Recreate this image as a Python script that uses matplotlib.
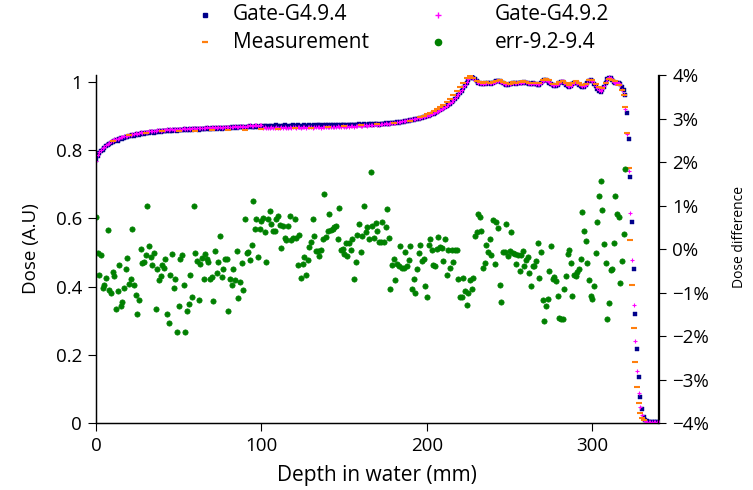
import numpy as np
import matplotlib
matplotlib.use("Agg")
import matplotlib.pyplot as plt
from matplotlib.lines import Line2D

plt.rcParams['font.family'] = ['Open Sans', 'DejaVu Sans']
plt.rcParams['font.size'] = 13.5

# depth-dose curves, one value per mm (0..340 mm)
gate94 = [
    0.771, 0.782, 0.790, 0.797, 0.801, 0.806, 0.811, 0.815, 0.818, 0.822, 0.824, 0.826, 0.829, 0.828, 0.832, 0.834, 0.831, 0.836, 0.838, 0.837, 0.840,
    0.841, 0.843, 0.842, 0.845, 0.846, 0.844, 0.848, 0.849, 0.847, 0.850, 0.851, 0.850, 0.852, 0.853, 0.851, 0.854, 0.853, 0.855, 0.854, 0.856,
    0.855, 0.857, 0.856, 0.858, 0.857, 0.855, 0.858, 0.859, 0.857, 0.860, 0.858, 0.860, 0.859, 0.861, 0.860, 0.858, 0.861, 0.860, 0.862, 0.861,
    0.862, 0.860, 0.863, 0.862, 0.861, 0.863, 0.864, 0.862, 0.863, 0.865, 0.863, 0.864, 0.862, 0.865, 0.864, 0.863, 0.866, 0.864, 0.865, 0.866,
    0.865, 0.867, 0.866, 0.868, 0.866, 0.867, 0.869, 0.867, 0.868, 0.866, 0.869, 0.868, 0.870, 0.868, 0.867, 0.869, 0.870, 0.868, 0.869, 0.870,
    0.869, 0.871, 0.870, 0.868, 0.870, 0.871, 0.869, 0.870, 0.872, 0.870, 0.869, 0.871, 0.870, 0.872, 0.871, 0.869, 0.871, 0.870, 0.872, 0.871,
    0.870, 0.872, 0.871, 0.869, 0.871, 0.872, 0.870, 0.871, 0.873, 0.871, 0.870, 0.872, 0.871, 0.873, 0.872, 0.870, 0.872, 0.871, 0.873, 0.872,
    0.871, 0.873, 0.872, 0.870, 0.872, 0.873, 0.871, 0.872, 0.874, 0.872, 0.871, 0.873, 0.872, 0.874, 0.873, 0.872, 0.874, 0.873, 0.875, 0.874,
    0.873, 0.875, 0.874, 0.873, 0.875, 0.876, 0.874, 0.875, 0.877, 0.875, 0.874, 0.876, 0.877, 0.876, 0.878, 0.877, 0.876, 0.878, 0.879, 0.878,
    0.879, 0.881, 0.880, 0.882, 0.883, 0.882, 0.884, 0.886, 0.885, 0.887, 0.889, 0.888, 0.890, 0.892, 0.891, 0.893, 0.895, 0.896, 0.898, 0.899,
    0.901, 0.903, 0.905, 0.906, 0.909, 0.911, 0.914, 0.916, 0.919, 0.922, 0.925, 0.928, 0.932, 0.936, 0.940, 0.945, 0.950, 0.955, 0.960, 0.966,
    0.973, 0.981, 0.989, 0.996, 1.006, 1.012, 1.014, 1.012, 1.008, 1.002, 0.998, 0.996, 0.995, 0.994, 0.996, 0.995, 0.997, 0.996, 0.995, 0.997,
    0.999, 1.001, 1.003, 1.002, 1.000, 0.997, 0.994, 0.992, 0.991, 0.993, 0.995, 0.996, 0.997, 0.995, 0.996, 0.998, 0.997, 0.998, 0.999, 0.998,
    0.997, 0.995, 0.994, 0.996, 0.995, 0.993, 0.991, 0.992, 0.996, 1.001, 1.004, 1.005, 1.002, 0.998, 0.994, 0.990, 0.988, 0.989, 0.992, 0.997,
    1.000, 1.000, 0.996, 0.991, 0.987, 0.985, 0.988, 0.993, 0.997, 0.998, 0.996, 0.992, 0.988, 0.985, 0.986, 0.990, 0.997, 1.003, 1.005, 1.002,
    0.995, 0.987, 0.980, 0.974, 0.971, 0.975, 0.986, 0.998, 1.007, 1.012, 1.010, 1.004, 0.999, 0.996, 0.998, 0.997, 0.993, 0.985, 0.975, 0.962,
    0.908, 0.832, 0.720, 0.590, 0.450, 0.320, 0.218, 0.136, 0.077, 0.041, 0.018, 0.009, 0.005, 0.003, 0.003, 0.002, 0.002, 0.002, 0.002, 0.002,
]

gate92 = [
    0.768, 0.785, 0.794, 0.800, 0.806, 0.810, 0.815, 0.819, 0.822, 0.826, 0.828, 0.831, 0.833, 0.832, 0.836, 0.838, 0.837, 0.840, 0.842, 0.841, 0.844,
    0.845, 0.846, 0.848, 0.849, 0.848, 0.851, 0.852, 0.851, 0.853, 0.854, 0.853, 0.855, 0.856, 0.855, 0.857, 0.856, 0.858, 0.859, 0.857, 0.859,
    0.860, 0.859, 0.861, 0.860, 0.862, 0.861, 0.860, 0.862, 0.863, 0.861, 0.863, 0.862, 0.864, 0.863, 0.862, 0.864, 0.863, 0.865, 0.864, 0.863,
    0.865, 0.864, 0.866, 0.865, 0.864, 0.866, 0.867, 0.865, 0.866, 0.868, 0.866, 0.867, 0.866, 0.868, 0.867, 0.866, 0.868, 0.867, 0.869, 0.868,
    0.867, 0.869, 0.868, 0.870, 0.869, 0.868, 0.870, 0.869, 0.871, 0.869, 0.870, 0.871, 0.872, 0.870, 0.871, 0.872, 0.873, 0.871, 0.872, 0.873,
    0.866, 0.867, 0.866, 0.865, 0.866, 0.867, 0.865, 0.866, 0.868, 0.866, 0.865, 0.867, 0.866, 0.867, 0.866, 0.865, 0.867, 0.866, 0.868, 0.867,
    0.866, 0.868, 0.867, 0.865, 0.867, 0.868, 0.866, 0.867, 0.869, 0.867, 0.866, 0.868, 0.867, 0.869, 0.868, 0.866, 0.868, 0.867, 0.869, 0.868,
    0.867, 0.869, 0.868, 0.867, 0.869, 0.870, 0.868, 0.869, 0.871, 0.869, 0.868, 0.870, 0.869, 0.871, 0.870, 0.869, 0.871, 0.870, 0.872, 0.871,
    0.871, 0.873, 0.872, 0.871, 0.873, 0.874, 0.873, 0.874, 0.876, 0.874, 0.874, 0.876, 0.877, 0.876, 0.878, 0.877, 0.877, 0.879, 0.880, 0.879,
    0.880, 0.882, 0.881, 0.883, 0.884, 0.884, 0.886, 0.887, 0.887, 0.889, 0.890, 0.890, 0.892, 0.893, 0.893, 0.895, 0.897, 0.898, 0.900, 0.901,
    0.903, 0.904, 0.906, 0.908, 0.911, 0.913, 0.915, 0.918, 0.921, 0.924, 0.927, 0.930, 0.934, 0.938, 0.942, 0.947, 0.952, 0.957, 0.963, 0.969,
    0.976, 0.984, 0.992, 0.999, 1.008, 1.013, 1.014, 1.011, 1.006, 1.001, 0.998, 0.997, 0.996, 0.995, 0.997, 0.996, 0.998, 0.997, 0.996, 0.998,
    1.000, 1.002, 1.003, 1.002, 0.999, 0.996, 0.994, 0.993, 0.993, 0.995, 0.997, 0.997, 0.998, 0.996, 0.997, 0.999, 0.998, 0.999, 1.000, 0.999,
    0.998, 0.996, 0.995, 0.996, 0.996, 0.994, 0.993, 0.994, 0.998, 1.002, 1.005, 1.005, 1.003, 0.999, 0.995, 0.992, 0.990, 0.991, 0.994, 0.998,
    1.001, 1.001, 0.998, 0.993, 0.989, 0.987, 0.989, 0.994, 0.998, 0.999, 0.998, 0.994, 0.990, 0.987, 0.987, 0.991, 0.998, 1.004, 1.006, 1.003,
    0.996, 0.988, 0.981, 0.976, 0.974, 0.978, 0.988, 0.999, 1.008, 1.013, 1.011, 1.005, 1.000, 0.997, 0.999, 0.998, 0.990, 0.977, 0.964, 0.920,
    0.847, 0.740, 0.615, 0.478, 0.346, 0.240, 0.152, 0.089, 0.048, 0.023, 0.011, 0.006, 0.003, 0.002, 0.002, 0.002, 0.002, 0.002, 0.002, 0.002,
]
depth = np.arange(len(gate94))

meas_depth = [10, 20, 30, 40, 50, 60, 70, 80, 90, 100, 110, 120, 130, 140, 150, 160, 170, 180, 190,
              196, 198, 200, 202, 204, 206, 208, 210, 212, 214, 216, 218, 220, 222, 224, 226, 228, 230,
              232, 234, 236, 238, 240, 242, 244, 246, 248, 250, 252, 254, 256, 258, 260, 262, 264, 266,
              268, 270, 272, 274, 276, 278, 280, 282, 284, 286, 288, 290, 292, 294, 296, 298, 300, 302,
              304, 306, 308, 310, 312, 314, 316, 318, 319, 320, 321, 322, 323, 324, 325, 326, 327, 328,
              329, 330, 331]
meas_dose = [0.828, 0.845, 0.851, 0.856, 0.856, 0.857, 0.859, 0.859, 0.860, 0.862, 0.863, 0.865, 0.866,
             0.868, 0.870, 0.872, 0.875, 0.879, 0.886,
             0.897, 0.901, 0.905, 0.910, 0.915, 0.920, 0.926, 0.933, 0.941, 0.950, 0.960, 0.972, 0.985,
             0.998, 1.010, 1.016, 1.012, 1.003, 0.999, 0.998, 0.999, 0.997, 1.000, 1.003, 1.005, 1.000,
             0.996, 0.995, 0.999, 0.998, 1.000, 1.001, 1.000, 0.998, 0.997, 0.996, 0.998, 1.005, 1.008,
             1.004, 0.995, 0.993, 1.000, 1.003, 0.996, 0.991, 0.997, 1.001, 0.997, 0.991, 0.995, 1.004,
             1.006, 0.995, 0.985, 0.982, 0.998, 1.008, 1.006, 1.001, 0.990, 0.977, 0.962, 0.925, 0.850,
             0.747, 0.537, 0.405, 0.278, 0.178, 0.105, 0.058, 0.030, 0.015, 0.008]

# relative difference G4.9.2 vs G4.9.4 in percent, one value per mm
err = [
    0.74, -0.1, -0.6, -0.13, -0.89, -0.82, -0.67, 0.44, -0.95, -1.0,
    -0.52, -0.62, -1.38, -0.97, -0.36, -1.32, -1.22, -0.89, -0.47, -0.2,
    -0.8, -0.7, 0.45, -0.83, -1.06, -1.5, -1.18, -0.01, -0.33, -0.3,
    -0.13, 1.0, 0.06, -0.18, -0.36, -0.1, -1.37, -0.47, -0.72, -0.62,
    -0.37, -0.43, -0.22, -1.5, -1.7, -0.6, -0.12, -0.89, -0.68, -1.9,
    -1.3, -0.22, -0.14, -0.83, -1.9, -1.42, -1.26, -0.6, -1.1, 1.0,
    -0.1, -0.27, -1.18, -0.35, -0.2, -0.7, -0.12, -0.22, -0.3, -0.68,
    -0.65, -1.2, -0.05, -0.56, -0.3, 0.31, -0.65, -0.47, -0.24, -0.24,
    -1.42, -0.68, -0.83, -0.45, -0.72, -0.05,
    -1.13, -0.75, -0.33, -0.95, 0.68, -0.09, -0.08, -0.25, 0.1,
    1.1, 0.45, 0.7, -0.19, 0.47, 0.65, 0.72, 0.4, -0.3, 0.7,
    0.87, 0.58, 0.42, 0.41, 0.68, 0.75, 0.55, 0.03, 0.54, 0.26,
    0.21, 0.52, 0.75, 0.21, 0.25, 0.68, 0.25, -0.37, 0.33, -0.67,
    -0.34, -0.19, -0.6, -0.26, 0.04, 0.15, 0.68, 0.3, -0.05, -0.05,
    -0.16, -0.03, 0.24, 1.27, 0.28, 0.41, 0.8, 0.44, 0.47, 0.51,
    0.54, 0.22, 0.95, -0.02, 0.0, -0.12, 0.14, -0.15, 0.14, -0.02,
    0.22, -0.68, -0.3, 0.33, 0.58, -0.08, 0.3, 1.0, 0.39, 0.5,
    0.24, 1.77,
    0.53, 0.25, 0.6, 0.42, 0.16, 0.17, 0.61, 0.15, 0.51, 0.91,
    0.25, -0.93, -0.37, -0.24, -0.72, -0.35, -0.38, 0.08, -0.43, -0.43,
    -0.08, -0.38, -0.25, 0.08, -0.93, -0.69, -1.0, -0.47, -0.09, 0.09,
    -0.27, -0.23, -0.85, -1.11, 0.09, 0.24, -0.02, -0.36, -0.39, -0.01,
    0.27, 0.05, 0.02, -0.28, 0.22, -0.6, -0.03, -0.43, -0.03, -0.31,
    -0.03, -0.03, -0.69, -1.1, -1.1, -0.67, -0.97, -1.28, -1.02, -0.72,
    -0.93, -0.66, 0.29, 0.38, 0.81, 0.74, 0.41, -0.43, -0.33, 0.09,
    -0.07, 0.23, -0.13, 0.66, -0.35, 0.62, 0.48, -0.83, -1.21, -0.08,
    -0.08, 0.57, -0.16,
    -0.05, 0.4, -0.1, -0.12, -0.35, -0.14, -0.5, -0.14, -0.04, -0.4,
    -0.26, -0.18, -0.56, -0.85, -0.38, -0.4, -0.28, 0.13, -0.67, -0.07,
    -1.17, -1.66, -1.3, -1.15, -0.51, 0.06, -0.7, -0.65, -0.74, -1.07,
    -1.58, -1.6, -1.61, -0.91, -0.61, -0.12, -0.02, -0.33, -1.07, -0.59,
    -0.63, -0.54, -0.47, -0.24, 0.85, 0.41, 0.18, -0.32, -0.72, -1.09,
    -1.16, -0.86, -0.1, 0.62, 1.21, 1.56, 0.89, 0.12, -0.33, -1.61,
    -1.24, -0.49, -0.45, 0.14, 1.22, 0.8, 0.74, -0.78, -0.28, 0.34,
    1.84,
]
err_depth = np.arange(len(err))

dose_ticks = [0, 0.2, 0.4, 0.6, 0.8, 1]
dose_labels = ["0", "0.2", "0.4", "0.6", "0.8", "1"]
pct_ticks = [-4, -3, -2, -1, 0, 1, 2, 3, 4]
pct_labels = ["\u22124%", "\u22123%", "\u22122%", "\u22121%", "0%", "1%", "2%", "3%", "4%"]
depth_ticks = [0, 100, 200, 300]

c_g94 = "#00008b"
c_g92 = "#ff00ff"
c_meas = "#ff7f0e"
c_err = "#008000"

W, H = 753, 490
fig = plt.figure(figsize=(W / 100, H / 100), dpi=100)
ax = fig.add_axes([96 / W, 1 - 423 / H, (658.5 - 96) / W, (423 - 75) / H])
ax2 = ax.twinx()

ax.plot(depth, gate94, ls="none", marker="s", ms=2.4, mew=0.3, color=c_g94, mec=c_g94, zorder=3)
ax.plot(depth, gate92, ls="none", marker="+", ms=3.4, mew=0.8, color=c_g92, zorder=4)
ax.plot(meas_depth, meas_dose, ls="none", marker="_", ms=4.5, mew=1.5, color=c_meas, zorder=5)
ax2.plot(err_depth, err, ls="none", marker="o", ms=3.8, mew=0.5, color=c_err, mec=c_err)

ax.set_xlim(0, 340)
ax.set_ylim(0, 1.02)
ax2.set_ylim(-4, 4)
ax.set_xticks(depth_ticks)
ax.set_yticks(dose_ticks)
ax.set_yticklabels(dose_labels)
ax2.set_yticks(pct_ticks)
ax2.set_yticklabels(pct_labels)

for a in (ax, ax2):
    a.spines["top"].set_visible(False)
    for s in a.spines.values():
        s.set_linewidth(0.9)
    a.tick_params(direction="out", length=6, width=0.8, pad=4, labelsize=13.5)

ax.set_xlabel("Depth in water (mm)", fontsize=15)
ax.set_ylabel("Dose (A.U)", fontsize=13.5)
ax2.set_ylabel("Dose difference", fontsize=10)
ax.xaxis.set_label_coords(0.5, -0.12)
ax.yaxis.set_label_coords(-0.1, 0.5)
ax2.yaxis.set_label_coords(1.13, 0.535)

# legend placed above the plot
entries = [
    ("Gate-G4.9.4", dict(marker="s", ms=3, color=c_g94), 205, 233, 15),
    ("Measurement", dict(marker="_", ms=5, mew=1.6, color=c_meas), 205, 233, 42),
    ("Gate-G4.9.2", dict(marker="+", ms=4, mew=1.0, color=c_g92), 438, 495, 15),
    ("err-9.2-9.4", dict(marker="o", ms=4.5, color=c_err), 438, 495, 42),
]
for label, style, mx, tx, yy in entries:
    fig.add_artist(Line2D([mx / W], [1 - yy / H], ls="none", transform=fig.transFigure, **style))
    fig.text(tx / W, 1 - yy / H, label, va="center", ha="left", fontsize=15)

fig.savefig("out.png", dpi=100)
